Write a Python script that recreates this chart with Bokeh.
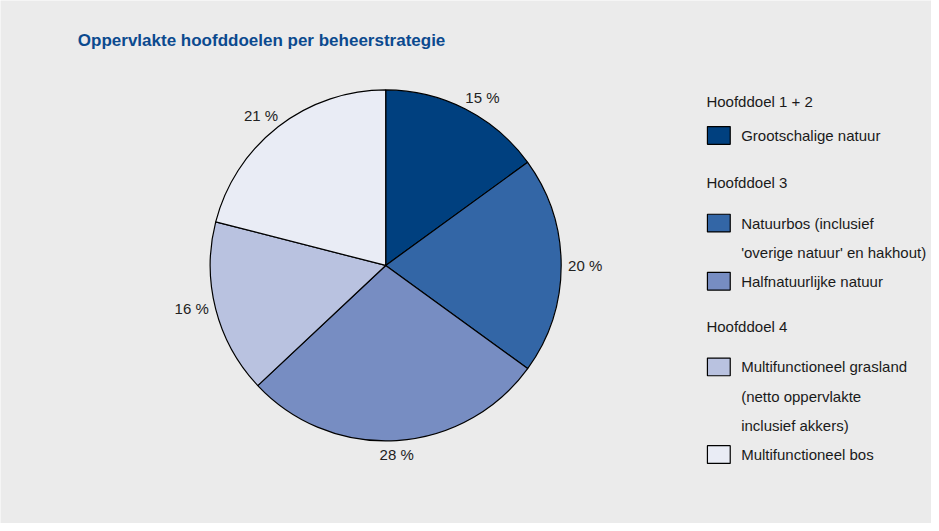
import math
from bokeh.plotting import figure
from bokeh.models import Range1d, ColumnDataSource
from bokeh.core.properties import value
from bokeh.embed import file_html
from bokeh.resources import INLINE

# ---- data ----
title = "Oppervlakte hoofddoelen per beheerstrategie"
categories = [
    "Grootschalige natuur",
    "Natuurbos (inclusief 'overige natuur' en hakhout)",
    "Halfnatuurlijke natuur",
    "Multifunctioneel grasland (netto oppervlakte inclusief akkers)",
    "Multifunctioneel bos",
]
shares = [15, 20, 28, 16, 21]
pct_labels = ["15 %", "20 %", "28 %", "16 %", "21 %"]
legend_lines = [
    ["Grootschalige natuur"],
    ["Natuurbos (inclusief", "'overige natuur' en hakhout)"],
    ["Halfnatuurlijke natuur"],
    ["Multifunctioneel grasland", "(netto oppervlakte", "inclusief akkers)"],
    ["Multifunctioneel bos"],
]
groups = ["Hoofddoel 1 + 2", "Hoofddoel 3", "Hoofddoel 4"]

# ---- style / layout ----
colors = ["#00407f", "#3366a6", "#778dc2", "#b9c2e0", "#e9ecf5"]
BG = "#ebebeb"
FONT = value("Liberation Sans")
W, H = 931, 523


def Y(s):
    return 531 - s


p = figure(width=W, height=H, x_range=Range1d(0, 939), y_range=Range1d(0, 531),
           output_backend="svg", toolbar_location=None, min_border=0,
           x_axis_location=None, y_axis_location=None)
p.grid.visible = False
p.outline_line_color = None
p.background_fill_color = BG
p.border_fill_color = BG

# title
p.text(x=[78], y=[Y(40.5)], text=[title], text_font=FONT, text_font_size="17px",
       text_font_style="bold", text_color="#0b4a8f", text_align="left",
       text_baseline="middle")

# pie
cx, cy_s, R = 388.5, 269, 177
total = float(sum(shares))
starts, ends = [], []
lx, ly, lalign = [], [], []
c = 0.0
for s in shares:
    f0 = c / total
    c += s
    f1 = c / total
    a0 = math.pi / 2 - 2 * math.pi * f0
    a1 = math.pi / 2 - 2 * math.pi * f1
    starts.append(a0)
    ends.append(a1)
    th = 2 * math.pi * (f0 + f1) / 2          # clockwise from top
    px = cx + R * math.sin(th)
    py = cy_s - R * math.cos(th)              # screen-like y
    sn, cs = math.sin(th), math.cos(th)
    if abs(cs) >= abs(sn):                    # label above / below
        if cs > 0:
            mid = py - 6 - 6.5
        else:
            mid = py + 9 + 6.5
        al = "left" if sn > 0.1 else ("right" if sn < -0.1 else "center")
        xx = px
    else:                                     # label left / right
        mid = py
        al = "left" if sn > 0 else "right"
        xx = px + (7 if sn > 0 else -7)
    lx.append(xx)
    ly.append(Y(mid))
    lalign.append(al)

src = ColumnDataSource(dict(start=starts, end=ends, color=colors, cat=categories))
p.wedge(x=cx, y=Y(cy_s), radius=R, start_angle="start", end_angle="end",
        direction="clock", fill_color="color", line_color="black",
        line_width=1.2, source=src)
for i in range(len(shares)):
    p.text(x=[lx[i]], y=[ly[i]], text=[pct_labels[i]], text_font=FONT,
           text_font_size="15px", text_color="#222222", text_align=lalign[i],
           text_baseline="middle")

# legend
header_mid = [103, 185, 331]
item_center = [137, 226, 285, 372, 461]
line_gap = 30
p.text(x=[712] * 3, y=[Y(b) for b in header_mid], text=groups, text_font=FONT,
       text_font_size="15px", text_color="#1a1a1a", text_align="left",
       text_baseline="middle")

sx, sy, tx, ty = [], [], [], []
for i, lines in enumerate(legend_lines):
    sx.append(724.5)
    sy.append(Y(item_center[i]))
    for j, t in enumerate(lines):
        tx.append(747)
        ty.append(Y(item_center[i] + j * line_gap))
p.rect(x=sx, y=sy, width=23, height=18, fill_color=colors, line_color="black",
       line_width=1.2)
p.text(x=tx, y=ty, text=[t for lines in legend_lines for t in lines], text_font=FONT,
       text_font_size="15px", text_color="#1a1a1a", text_align="left",
       text_baseline="middle")

open("out.html", "w").write(file_html(p, INLINE))
